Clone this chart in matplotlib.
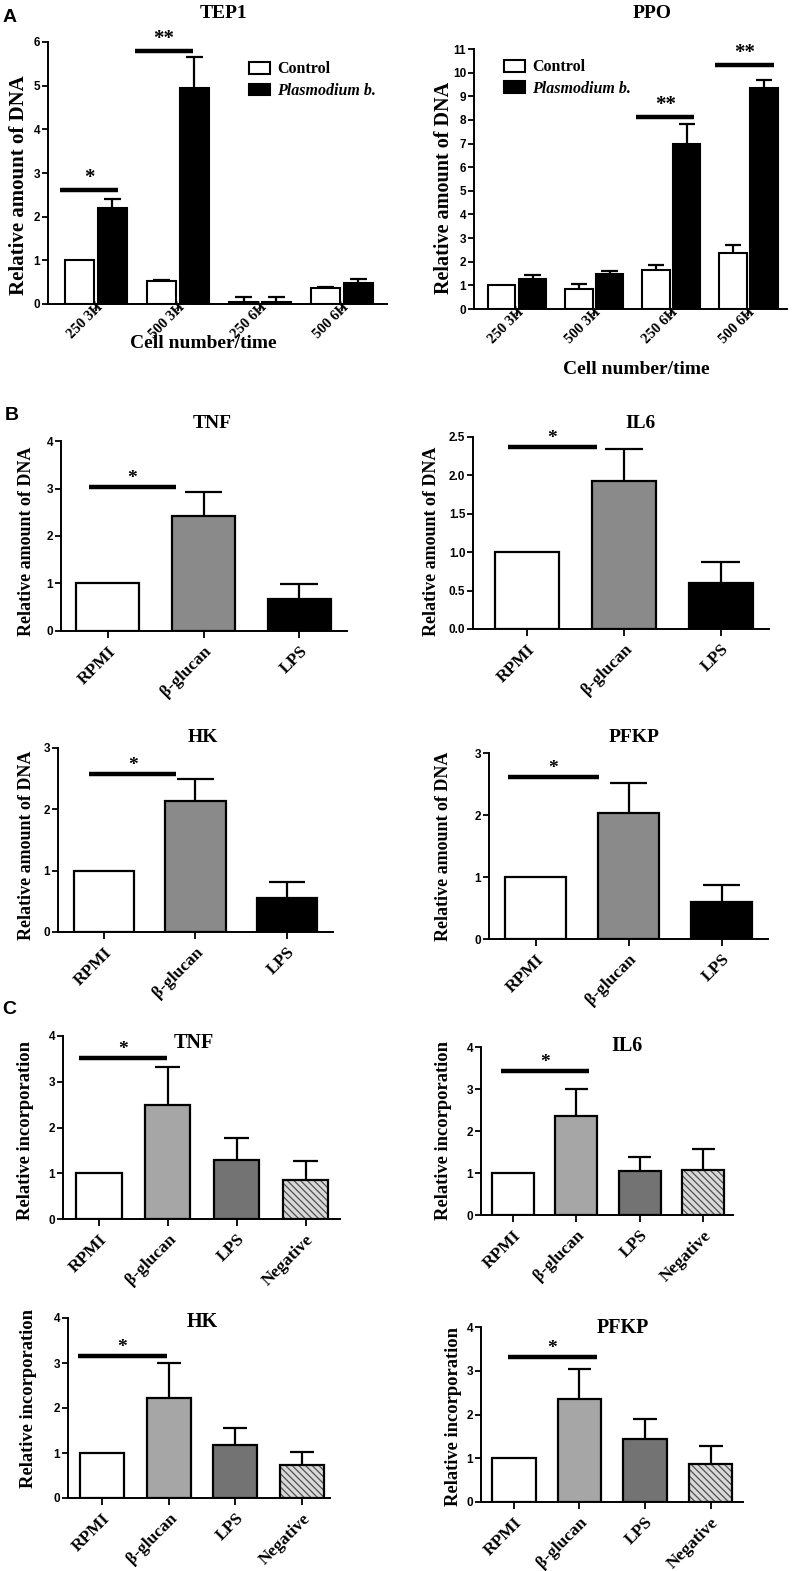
import matplotlib
matplotlib.use('Agg')
import matplotlib.pyplot as plt
import matplotlib.transforms as mtransforms
import numpy as np
from matplotlib.patches import Patch

W, H = 792, 1571
fig = plt.figure(figsize=(W / 100, H / 100), dpi=100)

SERIF = ['Liberation Serif', 'DejaVu Serif']
SANS = ['Liberation Sans', 'DejaVu Sans']

# ---------------- data ----------------
a_groups = ['250 3H', '500 3H', '250 6H', '500 6H']
a_series = ['Control', 'Plasmodium b.']

tep1_control = [1.0, 0.52, 0.05, 0.36]
tep1_control_err = [0.0, 0.04, 0.12, 0.03]
tep1_plasmo = [2.2, 4.95, 0.05, 0.48]
tep1_plasmo_err = [0.21, 0.70, 0.12, 0.09]

ppo_control = [1.0, 0.85, 1.67, 2.38]
ppo_control_err = [0.0, 0.22, 0.20, 0.32]
ppo_plasmo = [1.26, 1.49, 7.0, 9.33]
ppo_plasmo_err = [0.16, 0.13, 0.82, 0.34]

b_groups = ['RPMI', 'β-glucan', 'LPS']
b_tnf = [1.0, 2.43, 0.68]
b_tnf_err = [0.0, 0.49, 0.30]
b_il6 = [1.0, 1.93, 0.60]
b_il6_err = [0.0, 0.42, 0.27]
b_hk = [1.0, 2.13, 0.56]
b_hk_err = [0.0, 0.37, 0.26]
b_pfkp = [1.0, 2.03, 0.60]
b_pfkp_err = [0.0, 0.49, 0.27]

c_groups = ['RPMI', 'β-glucan', 'LPS', 'Negative']
c_tnf = [1.0, 2.50, 1.30, 0.85]
c_tnf_err = [0.0, 0.83, 0.46, 0.41]
c_il6 = [1.0, 2.35, 1.05, 1.07]
c_il6_err = [0.0, 0.65, 0.33, 0.49]
c_hk = [1.0, 2.23, 1.17, 0.73]
c_hk_err = [0.0, 0.77, 0.38, 0.30]
c_pfkp = [1.0, 2.35, 1.45, 0.88]
c_pfkp_err = [0.0, 0.68, 0.45, 0.40]

# ---------------- helpers ----------------
def fx(px):
    return px / W

def fy(py):
    return 1 - py / H

def make_ax(l, r, t, b, xlim, ylim):
    ax = fig.add_axes([fx(l), fy(b), (r - l) / W, (b - t) / H])
    ax.set_xlim(*xlim)
    ax.set_ylim(*ylim)
    for s in ['top', 'right']:
        ax.spines[s].set_visible(False)
    for s in ['left', 'bottom']:
        ax.spines[s].set_linewidth(1.4)
    ax.tick_params(axis='both', direction='out', width=1.3, length=4, colors='black')
    return ax

def style_yticks(ax, ticks, fmt='{:g}', size=8.5):
    ax.set_yticks(ticks)
    ax.set_yticklabels([fmt.format(t) for t in ticks], family=SANS,
                       fontweight='bold', fontsize=size)
    ax.tick_params(axis='y', pad=1.5)

def style_xticks(ax, labels, size, pad=4, dx=0):
    ax.set_xticks(np.arange(len(labels)))
    ax.set_xticklabels(labels, rotation=45, ha='right', va='top',
                       rotation_mode='anchor', family=SERIF,
                       fontweight='bold', fontsize=size)
    ax.tick_params(axis='x', length=5, pad=pad)
    if dx:
        off = mtransforms.ScaledTranslation(dx / 100, 0, fig.dpi_scale_trans)
        for lab in ax.get_xticklabels():
            lab.set_transform(lab.get_transform() + off)

def errbars(ax, xs, vals, errs, capw):
    for x, v, e in zip(xs, vals, errs):
        if e <= 0:
            continue
        ax.vlines(x, v, v + e, colors='black', lw=1.6, zorder=1)
        ax.hlines(v + e, x - capw / 2, x + capw / 2, colors='black', lw=1.6, zorder=1)

def sig(ax, x0, x1, y, txt, size=13, up=1.5):
    ax.plot([x0, x1], [y, y], color='black', lw=3.2, solid_capstyle='butt', zorder=4)
    ax.annotate(txt, xy=((x0 + x1) / 2, y), xytext=(0, up), textcoords='offset points',
                ha='center', va='bottom', family=SERIF, fontweight='bold',
                fontsize=size, zorder=5)

def ftext(px, py, s, **kw):
    fig.text(fx(px), fy(py), s, ha='center', va='center', **kw)

# ---------------- Panel A ----------------
def panel_a(box, xlim, ylim, yt, ctrl, ctrl_e, pl, pl_e, sigs, legend_anchor):
    ax = make_ax(*box, xlim, ylim)
    x = np.arange(len(a_groups))
    w, off = 0.355, 0.2
    ax.bar(x - off, ctrl, w, color='white', edgecolor='black', lw=1.5, zorder=2)
    ax.bar(x + off, pl, w, color='black', edgecolor='black', lw=1.5, zorder=2)
    errbars(ax, x - off, ctrl, ctrl_e, w * 0.6)
    errbars(ax, x + off, pl, pl_e, w * 0.6)
    for (x0, x1, y, t) in sigs:
        sig(ax, x0, x1, y, t, size=15, up=1.5)
    style_yticks(ax, yt)
    style_xticks(ax, a_groups, 10.5, pad=-7.5, dx=0)
    handles = [Patch(facecolor='white', edgecolor='black', lw=1.5, label=a_series[0]),
               Patch(facecolor='black', edgecolor='black', lw=1.5, label=a_series[1])]
    leg = ax.legend(handles=handles, loc='upper left', bbox_to_anchor=legend_anchor,
                    frameon=False, handlelength=1.3, handleheight=0.75,
                    handletextpad=0.45, labelspacing=0.35, borderaxespad=0,
                    prop={'family': SERIF, 'weight': 'bold', 'size': 11.5})
    leg.get_texts()[1].set_style('italic')
    return ax

panel_a((48, 387, 42, 304), (-0.585, 3.55), (0, 6), range(0, 7),
        tep1_control, tep1_control_err, tep1_plasmo, tep1_plasmo_err,
        [(-0.44, 0.27, 2.6, '*'), (0.48, 1.18, 5.8, '**')], (0.575, 0.95))
panel_a((474, 787, 49, 309), (-0.56, 3.5), (0, 11), range(0, 12),
        ppo_control, ppo_control_err, ppo_plasmo, ppo_plasmo_err,
        [(1.54, 2.30, 8.13, '**'), (2.56, 3.33, 10.33, '**')], (0.075, 0.985))

ftext(223, 13, 'TEP1', family=SERIF, fontweight='bold', fontsize=14)
ftext(652, 13, 'PPO', family=SERIF, fontweight='bold', fontsize=14)
ftext(19, 185, 'Relative amount of DNA', rotation=90, family=SERIF, fontweight='bold', fontsize=15)
ftext(444, 188, 'Relative amount of DNA', rotation=90, family=SERIF, fontweight='bold', fontsize=14.5)
ftext(203, 344, 'Cell number/time', family=SERIF, fontweight='bold', fontsize=14)
ftext(636, 369, 'Cell number/time', family=SERIF, fontweight='bold', fontsize=14)
ftext(10, 17, 'A', family=SANS, fontweight='bold', fontsize=14)

# ---------------- Panel B ----------------
b_colors = ['white', '#8a8a8a', 'black']

def panel_b(box, xlim, ylim, yt, vals, errs, sigspec, fmt='{:g}'):
    ax = make_ax(*box, xlim, ylim)
    x = np.arange(len(b_groups))
    w = 0.66
    ax.bar(x, vals, w, color=b_colors, edgecolor='black', lw=1.6, zorder=2)
    errbars(ax, x, vals, errs, w * 0.6)
    sig(ax, *sigspec, '*', size=14, up=0)
    style_yticks(ax, yt, fmt)
    style_xticks(ax, b_groups, 12.5)
    return ax

panel_b((61, 347, 441, 631), (-0.49, 2.5), (0, 4), range(0, 5), b_tnf, b_tnf_err, (-0.2, 0.71, 3.04))
panel_b((473, 769, 437, 629), (-0.56, 2.5), (0, 2.5), [0, 0.5, 1.0, 1.5, 2.0, 2.5], b_il6, b_il6_err,
        (-0.2, 0.72, 2.37), fmt='{:.1f}')
panel_b((58, 333, 748, 932), (-0.5, 2.5), (0, 3), range(0, 4), b_hk, b_hk_err, (-0.16, 0.79, 2.58))
panel_b((489, 768, 753, 939), (-0.5, 2.5), (0, 3), range(0, 4), b_pfkp, b_pfkp_err, (-0.3, 0.68, 2.61))

for (px, py, t) in [(212, 423, 'TNF'), (641, 423, 'IL6'), (203, 738, 'HK'), (634, 738, 'PFKP')]:
    ftext(px, py, t, family=SERIF, fontweight='bold', fontsize=14)
for (px, py) in [(27, 541), (431, 541), (27, 845), (443, 846)]:
    ftext(px, py, 'Relative amount of DNA', rotation=90, family=SERIF, fontweight='bold', fontsize=13)
ftext(12, 416, 'B', family=SANS, fontweight='bold', fontsize=14)

# ---------------- Panel C ----------------
c_colors = ['white', '#a6a6a6', '#737373', '#d9d9d9']
plt.rcParams['hatch.linewidth'] = 0.9

def panel_c(box, xlim, vals, errs, sigspec):
    ax = make_ax(*box, xlim, (0, 4))
    x = np.arange(len(c_groups))
    w = 0.66
    ax.bar(x[:3], vals[:3], w, color=c_colors[:3], edgecolor='black', lw=1.6, zorder=2)
    ax.bar(x[3:], vals[3:], w, color=c_colors[3], edgecolor='#505050', lw=0,
           hatch='\\\\\\\\\\', zorder=2)
    ax.bar(x[3:], vals[3:], w, color='none', edgecolor='black', lw=1.6, zorder=3)
    errbars(ax, x, vals, errs, w * 0.55)
    sig(ax, *sigspec, '*', size=14, up=0)
    style_yticks(ax, range(0, 5))
    style_xticks(ax, c_groups, 12.5)
    return ax

panel_c((63, 340, 1036, 1219), (-0.52, 3.5), c_tnf, c_tnf_err, (-0.29, 0.99, 3.51))
panel_c((481, 733, 1047, 1215), (-0.5, 3.47), c_il6, c_il6_err, (-0.19, 1.2, 3.44))
panel_c((68, 330, 1318, 1498), (-0.51, 3.42), c_hk, c_hk_err, (-0.36, 0.97, 3.16))
panel_c((481, 743, 1327, 1502), (-0.5, 3.49), c_pfkp, c_pfkp_err, (-0.09, 1.26, 3.32))

for (px, py, t) in [(194, 1043, 'TNF'), (627, 1046, 'IL6'), (202, 1322, 'HK'), (623, 1328, 'PFKP')]:
    ftext(px, py, t, family=SERIF, fontweight='bold', fontsize=14.5)
for (px, py) in [(26, 1130), (444, 1131), (29, 1398), (453, 1417)]:
    ftext(px, py, 'Relative incorporation', rotation=90, family=SERIF, fontweight='bold', fontsize=13.3)
ftext(9, 1009, 'C', family=SANS, fontweight='bold', fontsize=14)

fig.savefig('out.png', dpi=100)
